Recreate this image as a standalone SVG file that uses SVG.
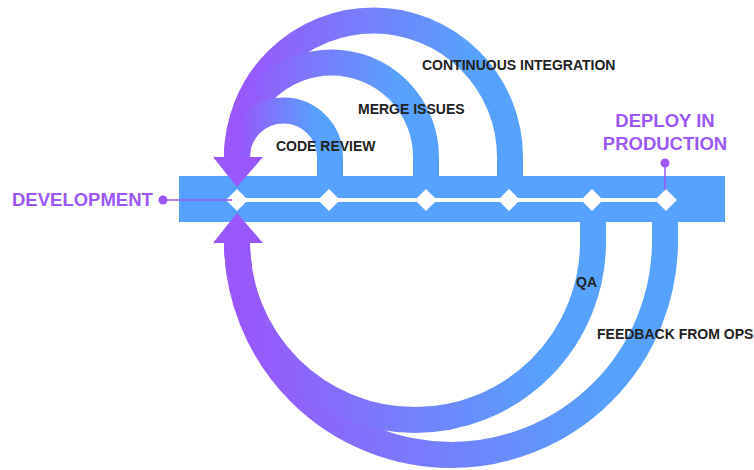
<svg xmlns="http://www.w3.org/2000/svg" width="754" height="470" viewBox="0 0 754 470">
  <style>
    .arc { fill: none; stroke-width: 26; stroke-linecap: butt; stroke: url(#gArc); }
    .lbl { font-family: "Liberation Sans", Arial, sans-serif; font-weight: bold; font-size: 14px; fill: #222222; }
    .big { font-family: "Liberation Sans", Arial, sans-serif; font-weight: bold; font-size: 18.5px; fill: #9b58f7; }
    .dia { fill: #ffffff; }
    .pin { stroke: #9b58f7; stroke-width: 1.5; fill: none; }
    .dot { fill: #9b58f7; }
    .head { fill: #9a57fb; }
  </style>
  <defs>
    <linearGradient id="gArc" x1="0" y1="0" x2="1" y2="0">
      <stop offset="0" stop-color="#9a55fb"/>
      <stop offset="0.85" stop-color="#58a0fd"/>
      <stop offset="1" stop-color="#57a2ff"/>
    </linearGradient>
  </defs>

  <g id="connectors">
    <path class="arc" d="M 510 177 L 510 157 A 136.5 136.5 0 0 0 237 157"/>
    <path class="arc" d="M 426 177 L 426 157 A 94.5 94.5 0 0 0 237 157"/>
    <path class="arc" d="M 330 177 L 330 157 A 46.5 46.5 0 0 0 237 157"/>
    <path class="arc" d="M 665 221 L 665 241 A 214 214 0 0 1 237 241"/>
    <path class="arc" d="M 593 221 L 593 242 A 178 178 0 0 1 237 242"/>
  </g>

  <g id="pipeline">
    <rect x="179" y="176" width="546" height="46" fill="#57a2ff"/>
    <polygon class="head" points="213,157 263,157 237,187"/>
    <polygon class="head" points="213,243 263,243 237,213"/>
    <line x1="237" y1="200" x2="667" y2="200" stroke="#ffffff" stroke-width="4"/>
  </g>

  <g id="development">
    <polygon class="dia" points="237,189 248,200 237,211 226,200"/>
    <line class="pin" x1="163" y1="200" x2="232" y2="200"/>
    <circle class="dot" cx="163" cy="200" r="4.5"/>
    <text class="big" x="12" y="206">DEVELOPMENT</text>
  </g>
  <g id="code-review">
    <polygon class="dia" points="329,189 340,200 329,211 318,200"/>
    <text class="lbl" x="276" y="151">CODE REVIEW</text>
  </g>
  <g id="merge-issues">
    <polygon class="dia" points="426,189 437,200 426,211 415,200"/>
    <text class="lbl" x="358" y="114">MERGE ISSUES</text>
  </g>
  <g id="continuous-integration">
    <polygon class="dia" points="509,189 520,200 509,211 498,200"/>
    <text class="lbl" x="422" y="70">CONTINUOUS INTEGRATION</text>
  </g>
  <g id="qa">
    <polygon class="dia" points="592,189 603,200 592,211 581,200"/>
    <text class="lbl" x="576" y="287">QA</text>
  </g>
  <g id="deploy">
    <polygon class="dia" points="666,189 677,200 666,211 655,200"/>
    <line class="pin" x1="665" y1="163" x2="665" y2="190"/>
    <circle class="dot" cx="665" cy="163" r="4.5"/>
    <text class="big" x="665" y="127" text-anchor="middle">DEPLOY IN</text>
    <text class="big" x="665" y="150" text-anchor="middle">PRODUCTION</text>
  </g>
  <g id="feedback">
    <text class="lbl" x="597" y="339">FEEDBACK FROM OPS</text>
  </g>
</svg>
